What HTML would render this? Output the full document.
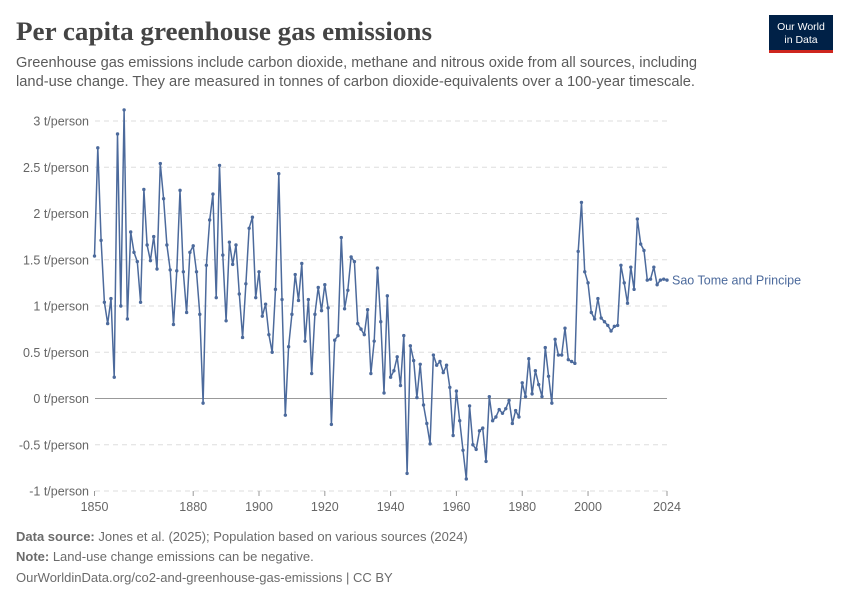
<!DOCTYPE html>
<html><head><meta charset="utf-8"><style>
body{margin:0;background:#fff;width:850px;height:600px;overflow:hidden;font-family:"Liberation Sans",sans-serif}
svg{display:block}
</style></head><body>
<svg id="chart" width="850" height="600" viewBox="0 0 850 600" xmlns="http://www.w3.org/2000/svg">
<text x="16" y="40" font-family="Liberation Serif,serif" font-weight="bold" font-size="26" fill="#444" textLength="416" lengthAdjust="spacingAndGlyphs">Per capita greenhouse gas emissions</text>
<text font-size="15" fill="#5b5b5b"><tspan x="16" y="67" textLength="681" lengthAdjust="spacingAndGlyphs">Greenhouse gas emissions include carbon dioxide, methane and nitrous oxide from all sources, including</tspan><tspan x="16" y="86" textLength="679" lengthAdjust="spacingAndGlyphs">land-use change. They are measured in tonnes of carbon dioxide-equivalents over a 100-year timescale.</tspan></text>
<g>
<rect x="769" y="15" width="64" height="36" fill="#002147"/>
<rect x="769" y="50" width="64" height="3" fill="#ce261e"/>
<text x="801" y="30" font-size="10.5" fill="#fff" text-anchor="middle">Our World</text>
<text x="801" y="43" font-size="10.5" fill="#fff" text-anchor="middle">in Data</text>
</g>
<g id="grid"></g>
<g id="plot"></g>
<g font-size="13" fill="#6b6b6b">
<text x="16" y="541"><tspan font-weight="bold">Data source:</tspan> Jones et al. (2025); Population based on various sources (2024)</text>
<text x="16" y="561"><tspan font-weight="bold">Note:</tspan> Land-use change emissions can be negative.</text>
<text x="16" y="582">OurWorldinData.org/co2-and-greenhouse-gas-emissions | CC BY</text>
</g>
</svg>
<script>
const startYear = 1850;
const values = [
1.54,2.71,1.71,1.04,0.81,1.08,0.23,2.86,1.00,3.12,
0.86,1.80,1.58,1.48,1.04,2.26,1.66,1.49,1.75,1.40,
2.54,2.16,1.66,1.39,0.80,1.38,2.25,1.37,0.93,1.58,
1.65,1.37,0.91,-0.05,1.44,1.93,2.21,1.09,2.52,1.55,
0.84,1.69,1.45,1.66,1.13,0.66,1.24,1.84,1.96,1.09,
1.37,0.89,1.02,0.69,0.50,1.18,2.43,1.07,-0.18,0.56,
0.91,1.34,1.06,1.46,0.62,1.07,0.27,0.91,1.20,0.95,
1.23,0.98,-0.28,0.63,0.68,1.74,0.97,1.17,1.53,1.48,
0.81,0.75,0.69,0.96,0.27,0.62,1.41,0.83,0.06,1.11,
0.23,0.30,0.45,0.14,0.68,-0.81,0.57,0.41,0.01,0.37,
-0.07,-0.27,-0.49,0.47,0.36,0.40,0.28,0.36,0.12,-0.40,
0.08,-0.24,-0.56,-0.87,-0.08,-0.50,-0.55,-0.35,-0.32,-0.68,
0.02,-0.24,-0.20,-0.12,-0.16,-0.11,-0.02,-0.27,-0.13,-0.20,
0.17,0.02,0.43,0.05,0.30,0.15,0.02,0.55,0.24,-0.05,
0.64,0.47,0.47,0.76,0.42,0.40,0.38,1.59,2.12,1.37,
1.25,0.93,0.86,1.08,0.87,0.83,0.79,0.73,0.78,0.79,
1.44,1.25,1.03,1.42,1.18,1.94,1.67,1.60,1.28,1.29,
1.42,1.23,1.28,1.29,1.28
];
const yTicks = [-1,-0.5,0,0.5,1,1.5,2,2.5,3];
const yTickLabels = ["-1 t/person","-0.5 t/person","0 t/person","0.5 t/person","1 t/person","1.5 t/person","2 t/person","2.5 t/person","3 t/person"];
const xTicks = [1850,1880,1900,1920,1940,1960,1980,2000,2024];
const seriesName = "Sao Tome and Principe";

const NS="http://www.w3.org/2000/svg";
const x0=94.5,x1=667,y0=398.5,yUnit=92.5;
const minYear=1850,maxYear=2024;
function xs(yr){return x0+(yr-minYear)/(maxYear-minYear)*(x1-x0);}
function ys(v){return y0-v*yUnit;}
function mk(t,a,p){const e=document.createElementNS(NS,t);for(const k in a)e.setAttribute(k,a[k]);p.appendChild(e);return e;}
const grid=document.getElementById('grid'),plot=document.getElementById('plot');
yTicks.forEach((v,i)=>{
  const l=mk('line',{x1:95,x2:667,y1:ys(v),y2:ys(v),stroke:v===0?'#999':'#ddd','stroke-dasharray':v===0?'none':'5,4','stroke-width':1},grid);
  
  
  const t=mk('text',{x:89,y:ys(v)+4.5,'text-anchor':'end','font-size':12.5,fill:'#666'},grid);
  t.textContent=yTickLabels[i];
  
  
});
xTicks.forEach(yr=>{
  const l=mk('line',{x1:xs(yr),x2:xs(yr),y1:491,y2:496,stroke:'#999'},grid);
  
  
  const t=mk('text',{x:xs(yr),y:511,'text-anchor':'middle','font-size':12.5,fill:'#666'},grid);
  t.textContent=yr;
  
  
});
const pts=values.map((v,i)=>[xs(startYear+i),ys(v)]);
const path=mk('polyline',{points:pts.map(p=>p[0].toFixed(1)+','+p[1].toFixed(1)).join(' '),fill:'none',stroke:'#4c6a9c','stroke-width':1.5,'stroke-linejoin':'round'},plot);


pts.forEach(p=>{
  const c=mk('circle',{cx:p[0],cy:p[1],r:1.7,fill:'#4c6a9c'},plot);
  
  
});
const last=pts[pts.length-1];
const lab=mk('text',{x:672,y:last[1]+4.5,'font-size':12.5,fill:'#4c6a9c'},plot);
lab.textContent=seriesName;


</script>
</body></html>
